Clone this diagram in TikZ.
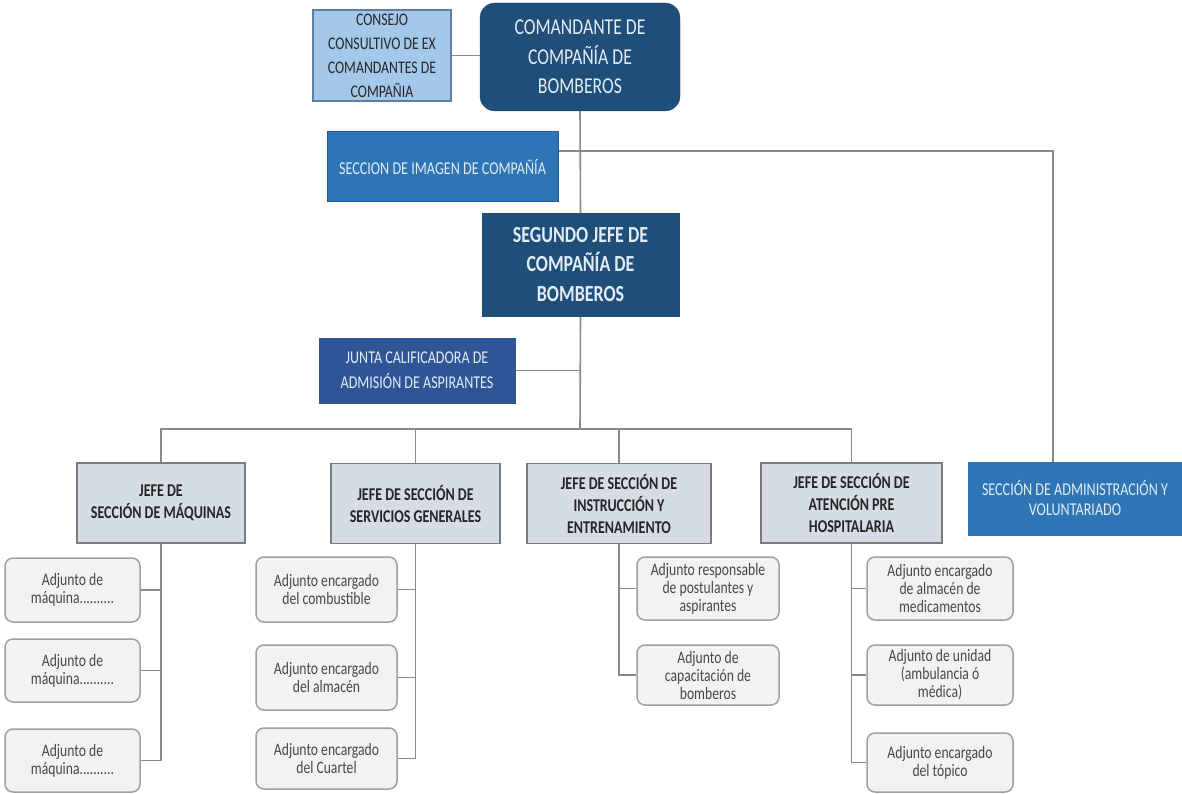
\documentclass[tikz,border=0pt]{standalone}
\usepackage{fontspec}
\setmainfont{Carlito}[FakeStretch=0.78]
\usetikzlibrary{backgrounds}
\definecolor{navy}{HTML}{1F4E79}
\definecolor{midblue}{HTML}{2E75B6}
\definecolor{juntablue}{HTML}{2F5597}
\definecolor{lightblue}{HTML}{A4C8EA}
\definecolor{lightbord}{HTML}{5F7EA0}
\definecolor{grayfill}{HTML}{D6DCE3}
\definecolor{grayborder}{HTML}{7C7C7C}
\definecolor{adjfill}{HTML}{F2F2F2}
\definecolor{adjborder}{HTML}{A0A0A0}
\definecolor{linecol}{HTML}{8A8A8A}
\definecolor{paletext}{HTML}{E2ECF6}
\definecolor{darktext}{HTML}{262626}
\tikzset{
  box/.style={rectangle, align=center, inner sep=2pt},
  consejobox/.style={box, fill=lightblue, draw=lightbord, line width=1.2pt, text=darktext, font=\fontsize{17.7}{24}\selectfont},
  comandbox/.style={box, fill=navy, draw=navy, rounded corners=15pt, text=paletext, font=\fontsize{22.7}{29.5}\selectfont},
  segundobox/.style={box, fill=navy, draw=navy, text=paletext, font=\bfseries\fontsize{23}{29.5}\selectfont},
  imagenbox/.style={box, fill=midblue, draw=midblue!80!black, line width=1pt, text=paletext, font=\fontsize{18.1}{20}\selectfont},
  juntabox/.style={box, fill=juntablue, draw=juntablue, text=paletext, font=\fontsize{18}{25}\selectfont},
  adminbox/.style={box, fill=midblue, draw=midblue, text=paletext, font=\fontsize{18.1}{20}\selectfont},
  jefebox/.style={box, fill=grayfill, draw=grayborder, line width=1.5pt, text=darktext, font=\bfseries\fontsize{18}{22}\selectfont, minimum width=170pt, minimum height=80pt},
  adjbox/.style={box, fill=adjfill, draw=adjborder, line width=1.5pt, rounded corners=8pt, text=darktext!85, font=\fontsize{17.5}{18}\selectfont, minimum width=142pt, minimum height=63pt},
  conn/.style={draw=linecol, line width=1.6pt}
}
\begin{document}
\begin{tikzpicture}[x=1pt, y=-1pt]
\path[use as bounding box] (0,0) rectangle (1182,794);

% top level
\node[comandbox, minimum width=200pt, minimum height=108pt] (com) at (580,57) {COMANDANTE DE\\COMPAÑÍA DE\\BOMBEROS};
\node[consejobox, minimum width=138pt, minimum height=91pt] (cons) at (382,55.5) {CONSEJO\\CONSULTIVO DE EX\\COMANDANTES DE\\COMPAÑIA};
\node[imagenbox, minimum width=231pt, minimum height=70pt] (img) at (442.5,167) {SECCION DE IMAGEN DE COMPAÑÍA};
\node[segundobox, minimum width=197pt, minimum height=103pt] (seg) at (580.5,264.5) {SEGUNDO JEFE DE\\COMPAÑÍA DE\\BOMBEROS};
\node[juntabox, minimum width=196pt, minimum height=65pt] (junta) at (417,370.5) {JUNTA CALIFICADORA DE\\ADMISIÓN DE ASPIRANTES};
\node[adminbox, minimum width=214pt, minimum height=73pt] (admin) at (1075,498.5) {SECCIÓN DE ADMINISTRACIÓN Y\\VOLUNTARIADO};

% jefes
\node[jefebox, minimum width=168pt] (jm) at (161,503) {JEFE DE\\SECCIÓN DE MÁQUINAS};
\node[jefebox, minimum width=169pt] (jsg) at (415.5,503.5) {JEFE DE SECCIÓN DE\\SERVICIOS GENERALES};
\node[jefebox, minimum width=184pt] (jie) at (619,503.5) {JEFE DE SECCIÓN DE\\INSTRUCCIÓN Y\\ENTRENAMIENTO};
\node[jefebox, minimum width=181pt] (jap) at (851.5,503) {JEFE DE SECCIÓN DE\\ATENCIÓN PRE\\HOSPITALARIA};

% adjuntos
\node[adjbox, minimum width=135pt, minimum height=64pt] (m1) at (72.5,590) {Adjunto de\\máquina..........};
\node[adjbox, minimum width=135pt, minimum height=63pt] (m2) at (72.5,670.5) {Adjunto de\\máquina..........};
\node[adjbox, minimum width=135pt, minimum height=63pt] (m3) at (72.5,760.5) {Adjunto de\\máquina..........};

\node[adjbox, minimum width=141pt, minimum height=65pt] (s1) at (326.5,589.5) {Adjunto encargado\\del combustible};
\node[adjbox, minimum width=141pt, minimum height=65pt] (s2) at (326.5,677.5) {Adjunto encargado\\del almacén};
\node[adjbox, minimum width=141pt, minimum height=61pt] (s3) at (326.5,758.5) {Adjunto encargado\\del Cuartel};

\node[adjbox, minimum width=142pt, minimum height=63pt] (i1) at (708,588.5) {Adjunto responsable\\de postulantes y\\aspirantes};
\node[adjbox, minimum width=142pt, minimum height=60pt] (i2) at (708,675) {Adjunto de\\capacitación de\\bomberos};

\node[adjbox, minimum width=146pt, minimum height=63pt] (h1) at (940,588.5) {Adjunto encargado\\de almacén de\\medicamentos};
\node[adjbox, minimum width=146pt, minimum height=60pt] (h2) at (940,675) {Adjunto de unidad\\(ambulancia ó\\médica)};
\node[adjbox, minimum width=146pt, minimum height=59pt] (h3) at (940,762.5) {Adjunto encargado\\del tópico};

% coordinates
\coordinate (bar) at (580,429);
\coordinate (rc) at (1053,151);

\begin{scope}[on background layer]
\fill[white] (0,0) rectangle (1182,794);
\draw[conn] (cons.east) -- (cons.east -| com.west);
\draw[conn] (com.south) -- (seg.north);
\draw[conn] (img.east |- rc) -- (rc) -- (rc |- admin.north);
\draw[conn] (seg.south) -- (bar);
\draw[conn] (junta.east) -- (junta.east -| seg.south);
\draw[conn] (jm.north) |- (bar) -| (jap.north);
\draw[conn] (jsg.north) -- (jsg.north |- bar);
\draw[conn] (jie.north) -- (jie.north |- bar);
% children
\draw[conn] (jm.south) |- (m3.east);
\draw[conn] (m1.east) -- (m1.east -| jm.south);
\draw[conn] (m2.east) -- (m2.east -| jm.south);
\draw[conn] (jsg.south) |- (s3.east);
\draw[conn] (s1.east) -- (s1.east -| jsg.south);
\draw[conn] (s2.east) -- (s2.east -| jsg.south);
\draw[conn] (jie.south) |- (i2.west);
\draw[conn] (i1.west) -- (i1.west -| jie.south);
\draw[conn] (jap.south) |- (h3.west);
\draw[conn] (h1.west) -- (h1.west -| jap.south);
\draw[conn] (h2.west) -- (h2.west -| jap.south);
\end{scope}
\end{tikzpicture}
\end{document}
